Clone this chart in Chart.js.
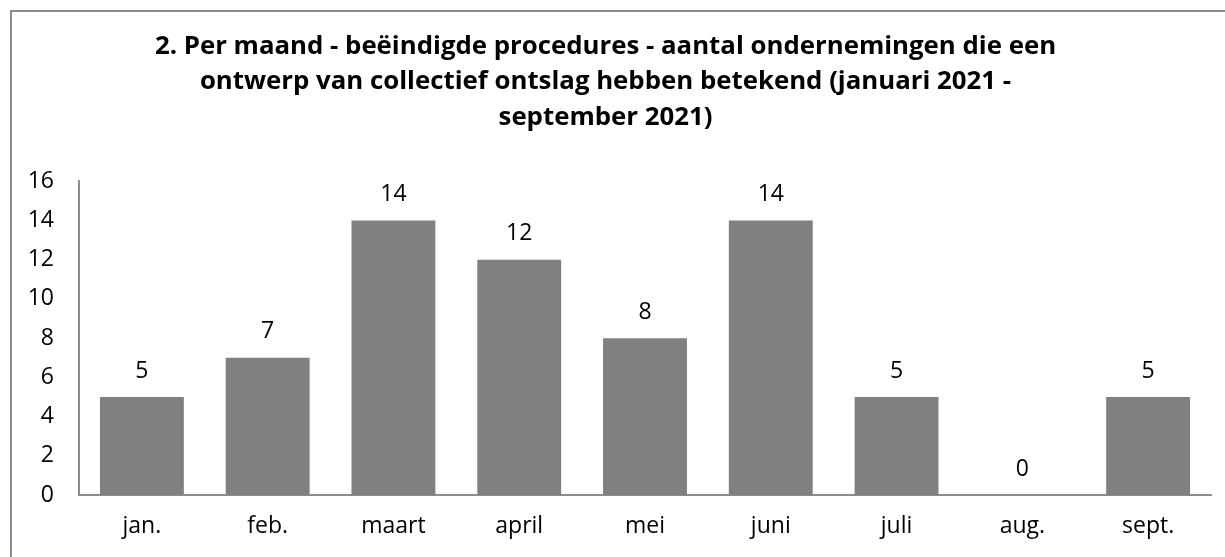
<!DOCTYPE html>
<html>
<head>
<meta charset="utf-8">
<script src="https://cdn.jsdelivr.net/npm/chart.js@4"></script>
<style>
  html, body { margin: 0; padding: 0; background: #fff; overflow: hidden; }
  #wrap { width: 1225px; height: 557px; position: relative; }
</style>
</head>
<body>
<div id="wrap"><canvas id="c" width="1225" height="557"></canvas></div>
<script>
// maanden en aantallen
const months = ['jan.', 'feb.', 'maart', 'april', 'mei', 'juni', 'juli', 'aug.', 'sept.'];
const counts = [5, 7, 14, 12, 8, 14, 5, 0, 5];
const titleLines = [
  '2. Per maand - beëindigde procedures - aantal ondernemingen die een',
  'ontwerp van collectief ontslag hebben betekend (januari 2021 -',
  'september 2021)'
];

const FONT = '"Open Sans", Lato, sans-serif';

// kader rond de grafiek (alleen links en boven zichtbaar)
const frame = {
  id: 'frame',
  beforeDraw(chart) {
    const c = chart.ctx;
    c.save();
    c.strokeStyle = '#8c8c8c';
    c.lineWidth = 2;
    c.beginPath();
    c.moveTo(11, chart.height);
    c.lineTo(11, 11);
    c.lineTo(chart.width, 11);
    c.stroke();
    c.restore();
  }
};

// waarden boven de staven
const valueLabels = {
  id: 'valueLabels',
  afterDatasetsDraw(chart) {
    const c = chart.ctx;
    const meta = chart.getDatasetMeta(0);
    c.save();
    c.font = '23px ' + FONT;
    c.fillStyle = '#000';
    c.textAlign = 'center';
    c.textBaseline = 'middle';
    meta.data.forEach((bar, i) => {
      c.fillText(String(counts[i]), bar.x, bar.y - 26);
    });
    c.restore();
  }
};

new Chart(document.getElementById('c'), {
  type: 'bar',
  data: {
    labels: months,
    datasets: [{
      data: counts,
      backgroundColor: '#808080',
      borderWidth: 0,
      categoryPercentage: 1,
      barPercentage: 0.667
    }]
  },
  options: {
    responsive: false,
    animation: false,
    layout: { padding: { left: 0, right: 14, top: 0, bottom: 0 } },
    plugins: {
      legend: { display: false },
      tooltip: { enabled: false },
      title: {
        display: true,
        text: titleLines,
        color: '#000',
        font: { family: FONT, size: 25.8, weight: 'bold', lineHeight: 1.36 },
        padding: { top: 29.5, bottom: 46.5 }
      }
    },
    scales: {
      x: {
        grid: { display: false, drawTicks: false },
        border: { display: true, color: '#8c8c8c', width: 2 },
        ticks: { color: '#000', font: { family: FONT, size: 23 }, padding: 18 },
        afterFit(scale) { scale.height = 62; }
      },
      y: {
        min: 0,
        max: 16,
        grid: { display: false, drawTicks: false },
        border: { display: true, color: '#8c8c8c', width: 2 },
        ticks: { stepSize: 2, color: '#000', font: { family: FONT, size: 23 }, padding: 25 },
        afterFit(scale) { scale.width = 79; }
      }
    }
  },
  plugins: [frame, valueLabels]
});
</script>
</body>
</html>
